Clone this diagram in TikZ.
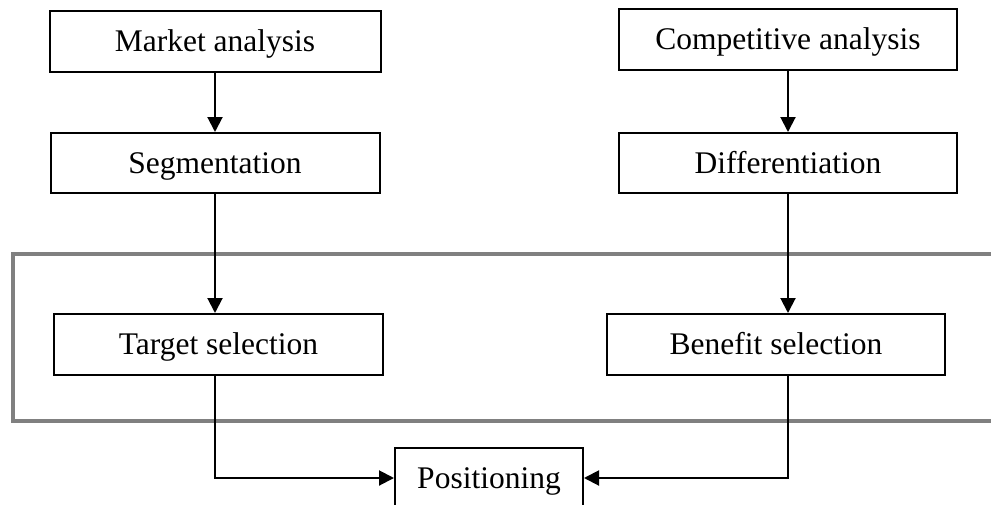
\documentclass[tikz,border=0pt]{standalone}
\usepackage{fontspec}
\setmainfont{Liberation Serif}
\usetikzlibrary{arrows.meta}
\definecolor{framegray}{RGB}{128,128,128}
\tikzset{
  box/.style={draw=black, line width=2pt, rectangle, inner sep=0pt,
    minimum height=61pt, text height=23pt, text depth=3pt,
    font=\fontsize{31.5}{37}\selectfont},
  conn/.style={draw=black, line width=2pt},
  arr/.style={conn, -{Triangle[length=15pt,width=15pt]}},
  frame/.style={draw=framegray, line width=4.5pt}
}
\begin{document}
\begin{tikzpicture}[x=1pt,y=-1pt]
\useasboundingbox (0,0) rectangle (991,504);
% grouping frame (open on the right)
\coordinate (ftr) at (1000,254);
\coordinate (ftl) at (13,254);
\coordinate (fbl) at (13,421);
\coordinate (fbr) at (1000,421);
\draw[frame] (ftr) -- (ftl) -- (fbl) -- (fbr);
% boxes
\node[box, minimum width=331pt] (market) at (215,41.5) {Market analysis};
\node[box, minimum width=338pt] (comp) at (788,39) {Competitive analysis};
\node[box, minimum width=329pt, minimum height=60pt] (seg) at (215,163) {Segmentation};
\node[box, minimum width=338pt, minimum height=60pt] (diff) at (788,163) {Differentiation};
\node[box, minimum width=329pt] (target) at (218.5,344.5) {Target selection};
\node[box, minimum width=338pt] (benefit) at (776,344.5) {Benefit selection};
\node[box, minimum width=188pt] (pos) at (489,478) {Positioning};
% connectors
\draw[arr] (market.south) -- (seg.north);
\draw[arr] (comp.south) -- (diff.north);
\draw[arr] (seg.south) -- (seg.south |- target.north);
\draw[arr] (diff.south) -- (diff.south |- benefit.north);
\draw[arr] (seg.south |- target.south) |- (pos.west);
\draw[arr] (diff.south |- benefit.south) |- (pos.east);
\end{tikzpicture}
\end{document}
